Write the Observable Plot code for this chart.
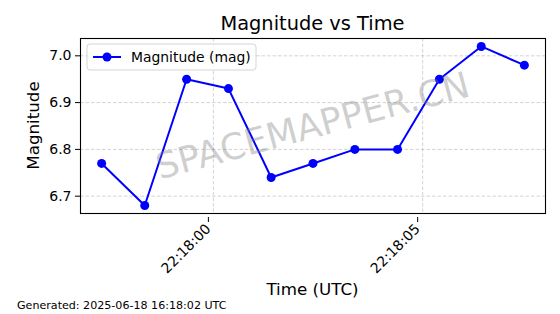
<!DOCTYPE html>
<html>
<head>
<meta charset="utf-8">
<script src="https://cdn.jsdelivr.net/npm/d3@7"></script>
<script src="https://cdn.jsdelivr.net/npm/@observablehq/plot@0.6"></script>
<style>
  html, body { margin: 0; padding: 0; background: #fff; }
  #chart svg { display: block; }
</style>
</head>
<body>
<div id="chart"></div>
<script>
// ---- Data ----
const times = [
  "2025-06-18T22:17:57.33Z", "2025-06-18T22:17:58.36Z", "2025-06-18T22:17:59.36Z",
  "2025-06-18T22:18:00.36Z", "2025-06-18T22:18:01.38Z", "2025-06-18T22:18:02.38Z",
  "2025-06-18T22:18:03.38Z", "2025-06-18T22:18:04.40Z", "2025-06-18T22:18:05.40Z",
  "2025-06-18T22:18:06.40Z", "2025-06-18T22:18:07.43Z"
];
const magnitudes = [6.77, 6.68, 6.95, 6.93, 6.74, 6.77, 6.80, 6.80, 6.95, 7.02, 6.98];
const xTicks = ["2025-06-18T22:18:00Z", "2025-06-18T22:18:05Z"];
const yTicks = [6.7, 6.8, 6.9, 7.0];
const titleText = "Magnitude vs Time";
const xLabel = "Time (UTC)";
const yLabel = "Magnitude";
const seriesName = "Magnitude (mag)";
const footerText = "Generated: 2025-06-18 16:18:02 UTC";
const watermark = "SPACEMAPPER.CN";

// ---- Build ----
const data = times.map((t, i) => ({time: new Date(t), mag: magnitudes[i]}));
const tExt = d3.extent(data, d => +d.time);
const tPad = (tExt[1] - tExt[0]) * 0.05;
const mExt = d3.extent(magnitudes);
const mPad = (mExt[1] - mExt[0]) * 0.05;

const W = 560, H = 314;
const mL = 80, mR = 15, mT = 38, mB = 101;
const FONT = "DejaVu Sans, sans-serif";
const BLUE = "#0000ff";

const chart = Plot.plot({
  width: W, height: H,
  marginLeft: mL, marginRight: mR, marginTop: mT, marginBottom: mB,
  style: {fontFamily: FONT, fontSize: "14px", color: "#000", background: "#fff"},
  x: {type: "utc", domain: [new Date(tExt[0] - tPad), new Date(tExt[1] + tPad)], label: null},
  y: {domain: [mExt[0] - mPad, mExt[1] + mPad], label: null},
  marks: [
    Plot.gridX(xTicks.map(d => new Date(d)), {stroke: "#b0b0b0", strokeOpacity: 0.7, strokeDasharray: "3.5,2", strokeWidth: 0.8}),
    Plot.gridY(yTicks, {stroke: "#b0b0b0", strokeOpacity: 0.7, strokeDasharray: "3.5,2", strokeWidth: 0.8}),
    Plot.axisX(xTicks.map(d => new Date(d)), {
      tickFormat: d3.utcFormat("%H:%M:%S"), tickRotate: -45, tickSize: 5, tickPadding: 4,
      fontSize: 14, label: null, stroke: "#000", dx: -5, dy: 4
    }),
    Plot.axisY(yTicks, {tickFormat: d3.format(".1f"), tickSize: 5, tickPadding: 4, fontSize: 14, label: null}),
    Plot.line(data, {x: "time", y: "mag", stroke: BLUE, strokeWidth: 2}),
    Plot.dot(data, {x: "time", y: "mag", fill: BLUE, r: 4.5}),
    Plot.frame({stroke: "#000", strokeWidth: 1.1})
  ]
});

const svg = d3.select(chart);
const cx = (mL + (W - mR)) / 2;
const cy = (mT + (H - mB)) / 2;

// watermark
svg.append("text")
  .attr("transform", `translate(${cx},${cy}) rotate(-15)`)
  .attr("text-anchor", "middle").attr("dominant-baseline", "central")
  .attr("font-family", FONT).attr("font-size", 36)
  .attr("fill", "#808080").attr("fill-opacity", 0.38)
  .text(watermark);

// legend
const lg = svg.append("g").attr("transform", "translate(87,44)");
lg.append("rect").attr("width", 169).attr("height", 26).attr("rx", 3)
  .attr("fill", "#fff").attr("fill-opacity", 0.8).attr("stroke", "#d5d5d5").attr("stroke-width", 1);
lg.append("line").attr("x1", 6).attr("x2", 34).attr("y1", 13).attr("y2", 13)
  .attr("stroke", BLUE).attr("stroke-width", 2);
lg.append("circle").attr("cx", 20).attr("cy", 13).attr("r", 4.5).attr("fill", BLUE);
lg.append("text").attr("x", 44).attr("y", 13).attr("dominant-baseline", "central")
  .attr("text-anchor", "start")
  .attr("font-family", FONT).attr("font-size", 13.9).attr("fill", "#000").text(seriesName);

// title
svg.append("text").attr("x", cx).attr("y", 30).attr("text-anchor", "middle")
  .attr("font-family", FONT).attr("font-size", 19.4).attr("fill", "#000").text(titleText);
// y label
svg.append("text").attr("transform", `translate(39,${cy}) rotate(-90)`).attr("text-anchor", "middle")
  .attr("font-family", FONT).attr("font-size", 16.7).attr("fill", "#000").text(yLabel);
// x label
svg.append("text").attr("x", cx).attr("y", 295).attr("text-anchor", "middle")
  .attr("font-family", FONT).attr("font-size", 16.7).attr("fill", "#000").text(xLabel);
// footer
svg.append("text").attr("x", 17).attr("y", 309).attr("text-anchor", "start")
  .attr("font-family", FONT).attr("font-size", 11.1).attr("fill", "#000").text(footerText);

document.getElementById("chart").appendChild(chart);
</script>
</body>
</html>
